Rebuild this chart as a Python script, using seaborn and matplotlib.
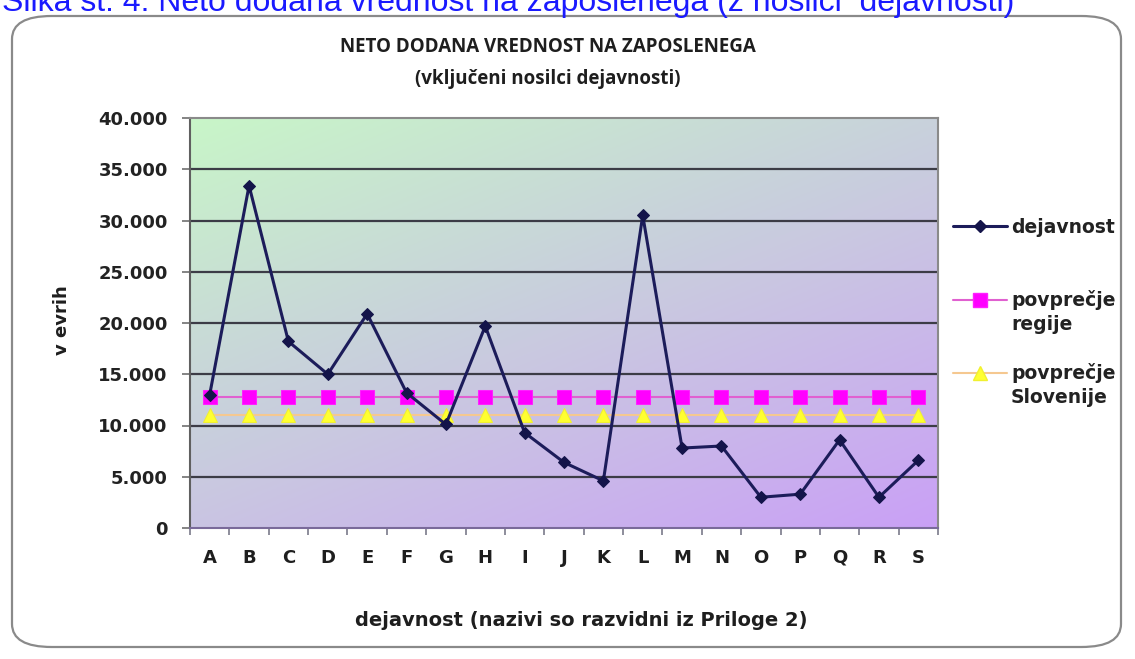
import numpy as np
import pandas as pd
import matplotlib
matplotlib.use("Agg")
import matplotlib.pyplot as plt
import seaborn as sns
from matplotlib.patches import FancyBboxPatch
from matplotlib.lines import Line2D
from matplotlib.ticker import FixedLocator, FuncFormatter

categories = ["A", "B", "C", "D", "E", "F", "G", "H", "I", "J",
              "K", "L", "M", "N", "O", "P", "Q", "R", "S"]
dejavnost = [13000, 33400, 18200, 15000, 20900, 13200, 10100, 19700, 9300, 6400,
             4600, 30500, 7800, 8000, 3000, 3300, 8600, 3000, 6600]
povprecje_regije = [12800] * 19
povprecje_slovenije = [11000] * 19
y_ticks = [0, 5000, 10000, 15000, 20000, 25000, 30000, 35000, 40000]

sns.set_theme(style="white")
plt.rcParams["font.family"] = ["DejaVu Sans"]

fig = plt.figure(figsize=(11.35, 6.59), dpi=100)
W, H = 1135, 659

# outer rounded frame
frame = FancyBboxPatch((12 / W, 12 / H), (1121 - 12) / W, (643 - 12) / H,
                       boxstyle="round,pad=0,rounding_size=0.035",
                       transform=fig.transFigure, facecolor="white",
                       edgecolor="#8a8a8a", linewidth=1.6, zorder=-5)
fig.patches.append(frame)

# caption (clipped at top, as in the source)
fig.text(2 / W, 1 - 3 / H, "Slika št. 4: Neto dodana vrednost na zaposlenega (z nosilci  dejavnosti)",
         family=["Liberation Sans", "DejaVu Sans"], fontsize=23, color="#1a1aff",
         ha="left", va="center")

ax = fig.add_axes([190 / W, 1 - 528 / H, (938 - 190) / W, (528 - 118) / H])
ax.set_zorder(2)

# gradient background
nx, ny = 200, 200
xx, yy = np.meshgrid(np.linspace(0, 1, nx), np.linspace(1, 0, ny))
t = np.clip((xx * 0.55 + (1 - yy) * 0.75) / 1.3, 0, 1)
c0 = np.array([200, 246, 200]) / 255.0
c1 = np.array([202, 160, 246]) / 255.0
img = c0[None, None, :] * (1 - t[..., None]) + c1[None, None, :] * t[..., None]
ax.imshow(img, extent=[-0.5, 18.5, 0, 40000], aspect="auto", zorder=0)

df = pd.DataFrame({"cat": categories, "dej": dejavnost,
                   "reg": povprecje_regije, "slo": povprecje_slovenije})

for yv in y_ticks[1:-1]:
    ax.axhline(yv, color="#3c3c46", linewidth=1.6, zorder=1)

sns.lineplot(data=df, x="cat", y="slo", ax=ax, color="#f5c890", linewidth=1.5,
             marker="^", markersize=10, markerfacecolor="#ffff30",
             markeredgecolor="#f0f030", zorder=3, sort=False)
sns.lineplot(data=df, x="cat", y="reg", ax=ax, color="#e060d0", linewidth=1.5,
             marker="s", markersize=10, markerfacecolor="#ff00ff",
             markeredgecolor="#ff20ff", zorder=4, sort=False)
sns.lineplot(data=df, x="cat", y="dej", ax=ax, color="#1c1c5a", linewidth=2.2,
             marker="D", markersize=6.5, markerfacecolor="#14144a",
             markeredgecolor="#14144a", zorder=5, sort=False)

ax.set_xlim(-0.5, 18.5)
ax.set_ylim(0, 40000)
ax.set_yticks(y_ticks)
ax.yaxis.set_major_formatter(FuncFormatter(lambda v, p: f"{int(v):,}".replace(",", ".")))
ax.set_xticks(range(len(categories)))
ax.set_xticklabels(categories)
ax.xaxis.set_minor_locator(FixedLocator(np.arange(-0.5, 19, 1)))
ax.tick_params(axis="x", which="major", length=0, pad=15, labelsize=13, labelcolor="#1e1e1e")
ax.tick_params(axis="x", which="minor", length=5, width=1.2, color="#7a7a8a", bottom=True, direction="out")
ax.tick_params(axis="y", which="major", length=6, width=1.2, color="#707070", left=True,
               direction="out", pad=10, labelsize=13, labelcolor="#222222")
for lab in ax.get_xticklabels() + ax.get_yticklabels():
    lab.set_fontweight("bold")
ax.set_xlabel("")
ax.set_ylabel("")
for side, sp in ax.spines.items():
    sp.set_visible(True)
    sp.set_color("#8a8a8a")
    sp.set_linewidth(1.5)
ax.spines["left"].set_color("#606060")
ax.spines["bottom"].set_color("#7a6a9a")

# titles and labels
fig.text(548 / W, 1 - 47 / H, "NETO DODANA VREDNOST NA ZAPOSLENEGA",
         family=["Open Sans", "DejaVu Sans"], fontweight="bold", fontsize=13.5,
         color="#1e1e1e", ha="center", va="center")
fig.text(548 / W, 1 - 79 / H, "(vključeni nosilci dejavnosti)",
         family=["Open Sans", "DejaVu Sans"], fontweight="bold", fontsize=13.5,
         color="#1e1e1e", ha="center", va="center")
fig.text(62 / W, 1 - 320 / H, "v evrih", rotation=90, fontweight="bold", fontsize=13,
         color="#1e1e1e", ha="center", va="center")
fig.text(581 / W, 1 - 620 / H, "dejavnost (nazivi so razvidni iz Priloge 2)",
         fontweight="bold", fontsize=14, color="#1e1e1e", ha="center", va="center")

h_dej = Line2D([], [], color="#1c1c5a", linewidth=2.2, marker="D", markersize=6.5,
               markerfacecolor="#14144a", markeredgecolor="#14144a")
h_reg = Line2D([], [], color="#e060d0", linewidth=1.5, marker="s", markersize=10,
               markerfacecolor="#ff00ff", markeredgecolor="#ff20ff")
h_slo = Line2D([], [], color="#f5c890", linewidth=1.5, marker="^", markersize=10,
               markerfacecolor="#ffff30", markeredgecolor="#f0f030")
h_none = Line2D([], [], linestyle="none")
handles = [h_dej, h_none, h_none, h_reg, h_none, h_none, h_slo, h_none]
labels = ["dejavnost", " ", " ", "povprečje", "regije", " ", "povprečje", "Slovenije"]
leg = fig.legend(handles, labels, loc="upper left",
                 bbox_to_anchor=(953 / W, 1 - 218 / H), frameon=False,
                 handlelength=2.9, handletextpad=0.2, labelspacing=0.27,
                 borderaxespad=0, borderpad=0, prop={"weight": "bold", "size": 13.5})
for txt in leg.get_texts():
    txt.set_color("#222222")

fig.savefig("out.png", dpi=100)
